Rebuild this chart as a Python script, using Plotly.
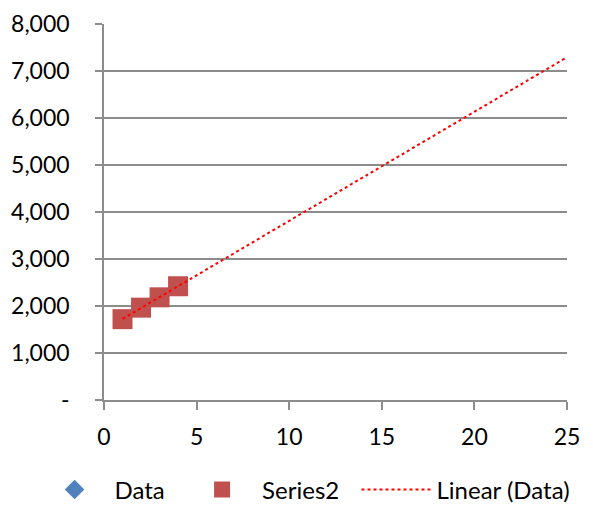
import numpy as np
import plotly.graph_objects as go

# Data
x_vals = [1, 2, 3, 4]
data_y = [1720, 1965, 2185, 2420]
series2_y = [1720, 1965, 2185, 2420]
y_ticks = [0, 1000, 2000, 3000, 4000, 5000, 6000, 7000, 8000]
y_tick_text = ["-", "1,000", "2,000", "3,000", "4,000", "5,000", "6,000", "7,000", "8,000"]
x_ticks = [0, 5, 10, 15, 20, 25]
trend_x_end = 25

# Linear trendline of "Data"
slope, intercept = np.polyfit(x_vals, data_y, 1)
trend_x = [x_vals[0], trend_x_end]
trend_y = [slope * v + intercept for v in trend_x]

FONT = "Lato"
GRID = "#8c8c8c"
NB = "\u00a0"

fig = go.Figure()
fig.add_trace(go.Scatter(
    x=x_vals, y=data_y, mode="markers", name="Data" + NB * 2,
    marker=dict(symbol="diamond", size=15, color="#4F81BD"),
))
fig.add_trace(go.Scatter(
    x=x_vals, y=series2_y, mode="markers", name="Series2" + NB * 2,
    marker=dict(symbol="square", size=20, color="#C0504D"),
))
fig.add_trace(go.Scatter(
    x=trend_x, y=trend_y, mode="lines", name="Linear (Data)",
    line=dict(color="#FF0000", width=2, dash="dot"),
))

fig.update_layout(
    width=593, height=506,
    margin=dict(l=104, r=26, t=24, b=106, autoexpand=False),
    paper_bgcolor="white", plot_bgcolor="white",
    font=dict(family=FONT, size=23, color="black"),
    showlegend=True,
    legend=dict(
        orientation="h", x=-0.15, xanchor="left", y=-0.239, yanchor="middle",
        font=dict(family=FONT, size=24, color="black"),
        itemwidth=70, bgcolor="rgba(0,0,0,0)",
    ),
)
fig.update_xaxes(
    range=[0, 25], tickvals=x_ticks, showgrid=False, zeroline=False,
    showline=True, linecolor=GRID, linewidth=1.5,
    ticks="outside", ticklen=8, tickcolor=GRID, tickwidth=1.5,
    ticklabelstandoff=8,
    tickfont=dict(family=FONT, size=23),
)
fig.update_yaxes(
    range=[0, 8000], tickvals=y_ticks, ticktext=y_tick_text,
    showgrid=True, gridcolor=GRID, gridwidth=1.5, zeroline=False,
    showline=True, linecolor=GRID, linewidth=1.5,
    ticks="outside", ticklen=7, tickcolor=GRID, tickwidth=1.5,
    ticklabelstandoff=21,
    tickfont=dict(family=FONT, size=23),
)

fig.write_html("out.html")
